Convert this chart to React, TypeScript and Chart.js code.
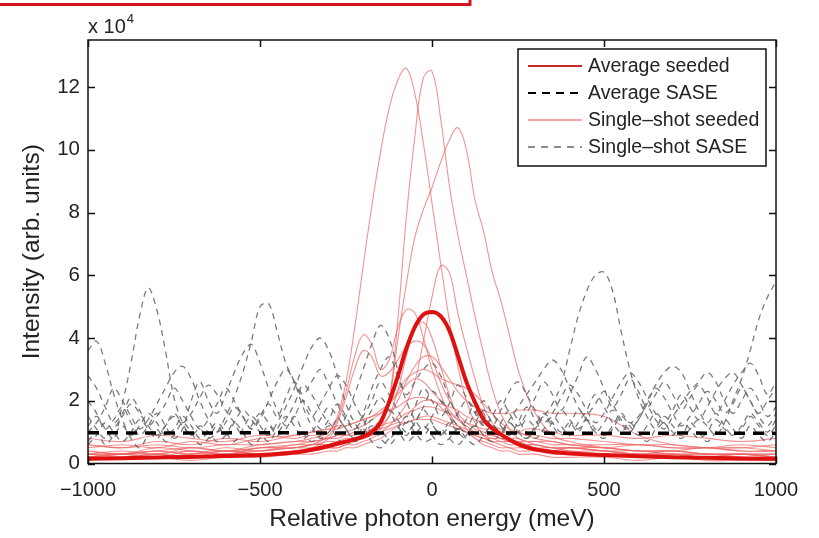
import React, { useEffect, useRef } from 'react';
import { Chart, registerables } from 'chart.js';

Chart.register(...registerables);

// ---------- axis ticks ----------
const xTickValues = [-1000, -500, 0, 500, 1000];
const yTickValues = [0, 2, 4, 6, 8, 10, 12];
const legendLabels = ['Average seeded', 'Average SASE', 'Single\u2013shot seeded', 'Single\u2013shot SASE'];

// ---------- averages (intensity in units of 10^4) ----------
const avgSeededEnergy = [-1000, -900, -800, -700, -600, -500, -400, -350, -300, -250, -200, -175, -150, -125, -100, -75, -50, -25, 0, 25, 50, 75, 100, 125, 150, 175, 200, 250, 300, 350, 400, 500, 600, 700, 800, 900, 1000];
const avgSeededIntensity = [0.15, 0.17, 0.19, 0.21, 0.24, 0.27, 0.35, 0.44, 0.56, 0.7, 0.86, 1.0, 1.3, 1.95, 2.75, 3.65, 4.35, 4.75, 4.83, 4.7, 4.25, 3.45, 2.6, 1.95, 1.4, 1.12, 0.93, 0.62, 0.45, 0.37, 0.32, 0.27, 0.23, 0.2, 0.18, 0.16, 0.15];

const avgSaseEnergy = [-1000, -750, -500, -250, 0, 250, 500, 750, 1000];
const avgSaseIntensity = [0.98, 0.97, 0.98, 0.97, 0.97, 0.97, 0.96, 0.97, 0.96];

// ---------- single-shot seeded spectra ----------
const seededEnergy = [-1000, -900, -800, -700, -600, -500, -400, -350, -300, -275, -250, -225, -200, -175, -150, -125, -100, -75, -50, -25, 0, 25, 50, 75, 100, 125, 150, 175, 200, 225, 250, 275, 300, 350, 400, 500, 600, 700, 800, 900, 1000];

const seededShotA = [0.3, 0.4, 0.3, 0.5, 0.4, 0.6, 0.7, 0.8, 1.0, 1.5, 2.6, 4.3, 6.3, 8.2, 9.9, 11.3, 12.2, 12.6, 11.8, 10.2, 8.3, 6.4, 4.6, 3.1, 2.0, 1.3, 0.9, 0.7, 0.6, 0.5, 0.5, 0.5, 0.4, 0.4, 0.5, 0.4, 0.3, 0.4, 0.3, 0.3, 0.2];
const seededShotB = [0.2, 0.3, 0.4, 0.3, 0.5, 0.4, 0.6, 0.6, 0.7, 0.7, 0.8, 0.8, 0.9, 1.0, 1.3, 2.0, 4.5, 7.8, 10.4, 12.3, 12.5, 11.0, 8.9, 7.3, 6.0, 4.7, 3.5, 2.4, 1.6, 1.1, 0.8, 0.7, 0.6, 0.5, 0.5, 0.4, 0.4, 0.3, 0.3, 0.3, 0.2];
const seededShotC = [0.3, 0.3, 0.2, 0.4, 0.3, 0.5, 0.5, 0.6, 0.6, 0.7, 0.7, 0.8, 0.9, 1.1, 1.4, 2.0, 3.9, 5.7, 7.2, 8.1, 8.8, 9.6, 10.3, 10.7, 10.0, 8.4, 7.4, 6.1, 5.2, 4.1, 3.0, 2.2, 1.6, 0.9, 0.7, 0.5, 0.4, 0.4, 0.3, 0.3, 0.3];
const seededShotD = [0.2, 0.3, 0.3, 0.2, 0.4, 0.3, 0.4, 0.4, 0.5, 0.5, 0.6, 0.6, 0.7, 0.8, 1.0, 1.2, 1.5, 1.9, 2.6, 3.9, 5.3, 6.3, 6.1, 4.8, 3.7, 2.7, 1.8, 1.3, 1.0, 0.8, 0.7, 0.6, 0.5, 0.5, 0.4, 0.4, 0.3, 0.3, 0.2, 0.3, 0.2];
const seededShotE = [0.3, 0.2, 0.3, 0.4, 0.3, 0.4, 0.5, 0.6, 0.9, 1.4, 2.3, 3.4, 4.1, 3.8, 3.0, 3.3, 4.3, 4.9, 4.8, 4.0, 3.0, 2.2, 1.6, 1.2, 1.0, 0.9, 0.8, 0.7, 0.7, 0.6, 0.6, 0.5, 0.5, 0.4, 0.4, 0.3, 0.3, 0.3, 0.2, 0.2, 0.2];
const seededShotF = [0.2, 0.3, 0.2, 0.3, 0.4, 0.3, 0.4, 0.5, 0.8, 1.3, 2.1, 3.0, 3.6, 3.4, 2.8, 2.9, 3.3, 3.7, 3.9, 3.8, 3.3, 2.6, 2.0, 1.6, 1.3, 1.1, 1.0, 0.9, 0.8, 0.7, 0.7, 0.6, 0.6, 0.5, 0.5, 0.4, 0.3, 0.3, 0.3, 0.2, 0.2];
const seededShotG = [0.3, 0.3, 0.4, 0.3, 0.4, 0.4, 0.5, 0.5, 0.6, 0.6, 0.7, 0.8, 0.9, 1.0, 1.2, 1.5, 2.0, 2.6, 3.1, 3.4, 3.4, 3.1, 2.7, 2.3, 2.0, 1.8, 1.7, 1.6, 1.6, 1.6, 1.7, 1.7, 1.7, 1.6, 1.6, 1.5, 0.9, 0.6, 0.5, 0.4, 0.4];
const seededShotH = [0.4, 0.3, 0.5, 0.4, 0.3, 0.5, 0.6, 0.7, 0.8, 0.9, 1.0, 1.1, 1.2, 1.4, 1.6, 1.9, 2.3, 2.7, 2.9, 3.0, 2.9, 2.7, 2.6, 2.5, 2.4, 2.2, 1.9, 1.6, 1.3, 1.1, 1.0, 0.9, 0.8, 0.7, 0.6, 0.5, 0.4, 0.4, 0.3, 0.3, 0.3];
const seededShotI = [0.5, 0.6, 0.5, 0.7, 0.6, 0.8, 0.9, 1.0, 1.1, 1.1, 1.2, 1.3, 1.4, 1.5, 1.6, 1.7, 1.8, 2.0, 2.1, 2.1, 2.0, 1.9, 1.8, 1.7, 1.5, 1.4, 1.3, 1.2, 1.1, 1.0, 1.0, 0.9, 0.9, 0.8, 0.8, 0.7, 0.6, 0.6, 0.5, 0.5, 0.4];
const seededShotJ = [0.6, 0.5, 0.7, 0.6, 0.8, 0.7, 0.9, 1.0, 1.1, 1.2, 1.2, 1.3, 1.4, 1.5, 1.7, 1.9, 2.2, 2.5, 2.7, 2.6, 2.3, 2.0, 1.7, 1.4, 1.2, 1.0, 0.9, 0.8, 0.8, 0.7, 0.7, 0.7, 0.7, 0.6, 0.6, 0.5, 0.6, 0.5, 0.5, 0.6, 0.5];
const seededShotK = [0.1, 0.2, 0.2, 0.1, 0.2, 0.2, 0.3, 0.3, 0.4, 0.4, 0.5, 0.5, 0.6, 0.7, 0.8, 1.0, 1.2, 1.5, 1.8, 2.0, 2.0, 1.8, 1.5, 1.2, 1.0, 0.8, 0.6, 0.5, 0.4, 0.4, 0.3, 0.3, 0.3, 0.2, 0.2, 0.2, 0.1, 0.2, 0.1, 0.1, 0.1];
const seededShotL = [0.8, 0.7, 0.9, 0.8, 0.7, 0.9, 0.8, 0.9, 0.8, 0.9, 0.9, 1.0, 1.0, 1.1, 1.2, 1.3, 1.4, 1.6, 1.7, 1.8, 1.8, 1.7, 1.6, 1.4, 1.3, 1.2, 1.1, 1.1, 1.0, 1.0, 1.0, 1.1, 1.1, 1.0, 0.9, 0.9, 0.8, 0.9, 0.8, 0.7, 0.8];
const seededShotM = [0.2, 0.2, 0.3, 0.2, 0.3, 0.3, 0.4, 0.4, 0.5, 0.5, 0.6, 0.7, 0.8, 0.9, 1.1, 1.5, 2.3, 3.4, 4.3, 4.5, 4.0, 3.1, 2.2, 1.5, 1.1, 0.8, 0.7, 0.6, 0.5, 0.5, 0.4, 0.4, 0.4, 0.3, 0.3, 0.3, 0.2, 0.2, 0.2, 0.2, 0.1];
const seededShotN = [0.4, 0.3, 0.4, 0.5, 0.4, 0.5, 0.5, 0.6, 0.6, 0.7, 0.7, 0.8, 0.8, 0.9, 1.0, 1.1, 1.2, 1.3, 1.4, 1.4, 1.4, 1.3, 1.2, 1.1, 1.0, 0.9, 0.8, 0.8, 0.7, 0.7, 0.6, 0.6, 0.6, 0.5, 0.5, 0.5, 0.4, 0.4, 0.5, 0.4, 0.4];
const seededShotO = [0.6, 0.5, 0.6, 0.5, 0.6, 0.6, 0.7, 0.7, 0.8, 0.8, 0.9, 0.9, 1.0, 1.0, 1.1, 1.2, 1.3, 1.3, 1.4, 1.5, 1.5, 1.4, 1.3, 1.2, 1.1, 1.0, 0.9, 0.9, 0.8, 0.8, 0.8, 0.7, 0.7, 0.7, 0.6, 0.6, 0.6, 0.5, 0.5, 0.5, 0.6];

// ---------- single-shot SASE spectra ----------
const saseEnergy = [
  -1000, -975, -950, -925, -900, -875, -850, -825, -800, -775, -750, -725, -700, -675, -650, -625,
  -600, -575, -550, -525, -500, -475, -450, -425, -400, -375, -350, -325, -300, -275, -250, -225,
  -200, -175, -150, -125, -100, -75, -50, -25, 0, 25, 50, 75, 100, 125, 150, 175,
  200, 225, 250, 275, 300, 325, 350, 375, 400, 425, 450, 475, 500, 525, 550, 575,
  600, 625, 650, 675, 700, 725, 750, 775, 800, 825, 850, 875, 900, 925, 950, 975, 1000,
];

const saseShot1 = [
  1.2, 1.5, 1.1, 0.8, 1.9, 3.2, 4.7, 5.6, 4.9, 3.6, 2.1, 1.3, 0.9, 1.2, 1.0, 0.7,
  0.9, 1.3, 1.0, 0.6, 0.8, 1.2, 0.9, 1.1, 1.5, 1.0, 0.7, 0.9, 1.2, 0.8, 0.6, 0.9,
  1.1, 0.7, 0.5, 0.8, 1.0, 0.7, 0.9, 1.2, 0.9, 0.6, 0.8, 1.1, 0.8, 0.6, 0.9, 1.2,
  0.9, 0.7, 1.0, 1.4, 1.2, 1.5, 1.9, 2.5, 3.6, 4.7, 5.5, 6.0, 6.1, 5.5, 4.2, 3.0,
  2.1, 1.5, 1.1, 1.3, 0.9, 1.3, 1.1, 0.8, 1.0, 1.4, 1.1, 0.9, 1.2, 1.6, 1.3, 1.0, 1.4,
];
const saseShot2 = [
  0.6, 0.9, 1.3, 1.0, 0.7, 1.0, 1.4, 1.1, 0.8, 1.2, 1.5, 1.2, 0.9, 1.1, 0.8, 1.0,
  1.5, 2.1, 2.9, 3.9, 5.0, 5.1, 4.2, 3.2, 2.6, 1.8, 1.2, 0.8, 1.0, 1.4, 1.1, 0.7,
  0.9, 1.2, 0.8, 0.6, 0.9, 1.3, 1.0, 0.7, 0.8, 1.1, 0.8, 0.6, 0.9, 1.2, 0.9, 0.7,
  1.0, 1.3, 1.0, 0.8, 1.1, 1.5, 1.2, 0.9, 1.2, 1.7, 1.4, 1.0, 0.8, 1.1, 1.5, 1.2,
  0.9, 1.2, 1.6, 1.3, 1.0, 0.8, 1.1, 1.4, 1.2, 0.9, 1.3, 2.0, 2.7, 3.6, 4.6, 5.3, 5.8,
];
const saseShot3 = [
  3.6, 3.9, 3.2, 2.2, 1.4, 0.9, 1.2, 1.6, 1.3, 0.9, 1.1, 1.5, 1.2, 0.8, 1.0, 1.3,
  1.0, 0.7, 1.1, 1.5, 1.2, 0.9, 1.3, 1.8, 2.4, 3.1, 3.7, 4.0, 3.6, 2.8, 1.9, 1.3,
  1.0, 1.4, 1.1, 0.8, 1.1, 1.5, 1.2, 0.9, 1.2, 0.9, 1.3, 1.0, 0.8, 1.2, 1.5, 1.1,
  0.9, 1.3, 1.0, 0.8, 1.2, 1.6, 1.3, 1.0, 1.3, 1.0, 1.4, 1.1, 0.9, 1.2, 1.6, 1.3,
  1.5, 2.0, 2.5, 2.9, 3.1, 2.9, 2.3, 1.7, 1.3, 1.6, 1.2, 0.9, 1.1, 1.5, 1.2, 0.9, 1.2,
];
const saseShot4 = [
  2.0, 1.6, 1.1, 1.4, 1.8, 1.3, 0.9, 1.2, 1.6, 1.2, 0.8, 1.1, 2.0, 2.6, 2.0, 1.6,
  2.2, 2.9, 3.5, 3.8, 3.2, 2.4, 1.7, 1.2, 1.5, 2.0, 1.6, 1.1, 1.4, 1.9, 1.5, 1.1,
  1.6, 2.4, 3.0, 3.4, 2.8, 2.0, 1.4, 1.1, 1.5, 2.0, 1.6, 1.2, 1.0, 1.3, 1.7, 1.3,
  1.0, 1.4, 1.8, 2.2, 2.6, 3.0, 3.3, 3.0, 2.4, 1.8, 1.4, 1.0, 1.3, 1.7, 1.3, 1.0,
  1.4, 1.8, 1.4, 1.1, 1.5, 1.9, 2.3, 2.6, 2.9, 2.6, 2.0, 1.6, 2.0, 2.4, 2.0, 1.5, 1.8,
];
const saseShot5 = [
  1.0, 1.3, 1.8, 2.4, 2.0, 1.5, 1.1, 1.4, 1.9, 2.4, 2.9, 3.1, 2.7, 2.0, 1.4, 1.0,
  1.3, 1.8, 1.5, 1.1, 1.4, 2.0, 2.6, 3.0, 2.6, 2.0, 1.5, 1.9, 2.4, 2.8, 2.5, 1.9,
  1.4, 1.0, 1.3, 1.7, 1.4, 1.0, 1.3, 1.8, 2.3, 2.0, 1.5, 1.1, 1.4, 1.9, 1.6, 1.2,
  1.7, 2.3, 2.6, 2.2, 1.7, 1.3, 1.6, 2.1, 2.5, 2.2, 1.7, 1.3, 1.6, 2.1, 2.6, 2.9,
  2.6, 2.1, 1.6, 1.3, 1.7, 2.2, 1.8, 1.4, 1.8, 2.3, 2.7, 2.9, 2.5, 2.0, 1.6, 2.0, 2.4,
];
const saseShot6 = [
  0.7, 1.0, 0.6, 0.9, 1.2, 0.8, 0.5, 0.9, 1.1, 0.7, 0.9, 1.3, 1.0, 0.6, 0.8, 1.2,
  0.9, 1.3, 1.7, 1.4, 1.0, 0.7, 1.1, 1.5, 1.2, 0.8, 1.0, 1.4, 1.8, 1.5, 1.1, 0.8,
  1.2, 1.7, 2.1, 1.7, 1.2, 0.9, 1.3, 1.7, 1.3, 0.9, 1.2, 1.6, 2.0, 1.7, 1.2, 0.9,
  1.3, 1.7, 1.4, 1.0, 0.8, 1.1, 1.5, 1.2, 0.9, 1.3, 1.7, 2.2, 1.8, 1.3, 1.0, 1.3,
  1.0, 0.7, 1.1, 1.5, 1.2, 0.9, 1.3, 1.0, 0.7, 1.0, 1.4, 1.1, 0.8, 1.2, 0.9, 0.7, 1.0,
];
const saseShot7 = [
  1.5, 1.1, 0.8, 1.1, 1.5, 1.9, 1.6, 1.2, 0.9, 1.2, 1.6, 1.3, 1.6, 2.1, 2.5, 2.2,
  1.7, 1.3, 0.9, 1.2, 1.6, 1.3, 1.0, 1.4, 1.9, 2.5, 2.2, 1.7, 1.3, 1.1, 1.5, 2.2,
  3.0, 3.8, 4.4, 4.0, 3.0, 2.2, 2.6, 3.0, 3.2, 2.8, 2.1, 1.5, 1.2, 1.6, 2.0, 1.6,
  1.2, 0.9, 1.3, 1.8, 1.4, 1.0, 1.3, 1.7, 1.4, 1.1, 1.5, 1.9, 2.3, 1.9, 1.4, 1.1,
  1.4, 1.9, 2.4, 2.1, 1.6, 1.2, 1.5, 1.9, 2.3, 2.0, 1.6, 1.9, 2.4, 2.0, 1.5, 1.2, 1.6,
];
const saseShot8 = [
  2.8, 2.4, 1.8, 1.3, 1.6, 2.1, 1.7, 1.2, 1.5, 1.9, 2.4, 2.0, 1.5, 1.1, 1.4, 1.9,
  2.4, 2.0, 1.5, 1.1, 1.5, 1.9, 1.5, 2.1, 2.6, 2.2, 2.6, 3.0, 2.5, 1.9, 1.4, 1.1,
  1.5, 2.0, 2.6, 2.2, 1.7, 1.3, 1.8, 2.4, 2.0, 1.5, 1.9, 2.5, 2.1, 1.6, 1.2, 1.5,
  2.0, 1.6, 1.2, 1.6, 2.1, 2.6, 2.2, 1.7, 2.2, 2.8, 3.4, 3.0, 2.4, 1.8, 2.2, 2.7,
  2.3, 1.8, 2.2, 2.6, 2.2, 1.7, 2.1, 2.5, 2.1, 1.6, 2.0, 2.5, 2.9, 3.2, 2.8, 2.2, 2.6,
];

// ---------- styles ----------
const FONT = '"Liberation Sans", Arial, Helvetica, sans-serif';
const TEXT_COLOR = '#222228';
const AVG_SEEDED_COLOR = 'rgb(222,16,16)';
const AVG_SASE_COLOR = '#000000';
const SHOT_SEEDED_COLOR = 'rgba(238,100,100,0.7)';
const SHOT_SASE_COLOR = 'rgba(100,100,100,0.85)';

const seededShots = [seededShotA, seededShotB, seededShotC, seededShotD, seededShotE, seededShotF, seededShotG, seededShotH, seededShotI, seededShotJ, seededShotK, seededShotL, seededShotM, seededShotN, seededShotO];
const saseShots = [saseShot1, saseShot2, saseShot3, saseShot4, saseShot5, saseShot6, saseShot7, saseShot8];

const toPoints = (xs: number[], ys: number[]) => xs.map((x, i) => ({ x, y: ys[i] }));

const fmtX = (v: number) => (v < 0 ? '\u2212' + Math.abs(v) : String(v));

const framePlugin = {
  id: 'matlabFrame',
  afterDraw(chart: any) {
    const { ctx, chartArea } = chart;
    const { left, right, top, bottom } = chartArea;
    const xs = chart.scales.x;
    const ys = chart.scales.y;
    ctx.save();

    // axes box
    ctx.strokeStyle = '#111';
    ctx.lineWidth = 1.5;
    ctx.setLineDash([]);
    ctx.strokeRect(left, top, right - left, bottom - top);

    // inward ticks
    const tl = 7;
    ctx.beginPath();
    xs.ticks.forEach((t: any) => {
      const px = Math.round(xs.getPixelForValue(t.value)) + 0.5;
      ctx.moveTo(px, bottom); ctx.lineTo(px, bottom - tl);
      ctx.moveTo(px, top); ctx.lineTo(px, top + tl);
    });
    ys.ticks.forEach((t: any) => {
      const py = Math.round(ys.getPixelForValue(t.value)) + 0.5;
      ctx.moveTo(left, py); ctx.lineTo(left + tl, py);
      ctx.moveTo(right, py); ctx.lineTo(right - tl, py);
    });
    ctx.stroke();

    // exponent label
    ctx.fillStyle = TEXT_COLOR;
    ctx.textBaseline = 'alphabetic';
    ctx.textAlign = 'left';
    ctx.font = `20px ${FONT}`;
    ctx.fillText('x 10', left, 33);
    const w = ctx.measureText('x 10').width;
    ctx.font = `13px ${FONT}`;
    ctx.fillText('4', left + w + 1, 23);

    // legend
    const lgX = right - 258;
    const lgY = top + 9;
    const lgW = 248;
    const lgH = 117;
    ctx.fillStyle = '#ffffff';
    ctx.fillRect(lgX, lgY, lgW, lgH);
    ctx.strokeStyle = '#111';
    ctx.lineWidth = 1.5;
    ctx.strokeRect(lgX, lgY, lgW, lgH);
    const samples = [
      { color: 'rgb(200,40,40)', width: 2, dash: [] as number[] },
      { color: '#000', width: 2.2, dash: [8, 6] },
      { color: 'rgba(238,120,120,0.9)', width: 1.4, dash: [] as number[] },
      { color: '#666', width: 1.4, dash: [7, 6] },
    ];
    legendLabels.forEach((label, i) => {
      const cy = lgY + 17 + i * 27;
      const s = samples[i];
      ctx.beginPath();
      ctx.strokeStyle = s.color;
      ctx.lineWidth = s.width;
      ctx.setLineDash(s.dash);
      ctx.moveTo(lgX + 10, cy);
      ctx.lineTo(lgX + 64, cy);
      ctx.stroke();
      ctx.setLineDash([]);
      ctx.fillStyle = TEXT_COLOR;
      ctx.font = `19.5px ${FONT}`;
      ctx.textBaseline = 'middle';
      ctx.fillText(label, lgX + 70, cy + 1);
    });

    // red annotation frame at the top
    ctx.strokeStyle = 'rgb(210,20,30)';
    ctx.lineWidth = 3;
    ctx.strokeRect(-10, -10, 480, 14.5);

    ctx.restore();
  },
};

export default function App() {
  const canvasRef = useRef<HTMLCanvasElement | null>(null);

  useEffect(() => {
    const canvas = canvasRef.current;
    if (!canvas) return;

    const datasets: any[] = [
      {
        label: 'Average seeded',
        data: toPoints(avgSeededEnergy, avgSeededIntensity),
        borderColor: AVG_SEEDED_COLOR,
        borderWidth: 4,
        cubicInterpolationMode: 'monotone',
        order: 0,
      },
      {
        label: 'Average SASE',
        data: toPoints(avgSaseEnergy, avgSaseIntensity),
        borderColor: AVG_SASE_COLOR,
        borderWidth: 3.5,
        borderDash: [11, 8],
        order: 1,
      },
      ...saseShots.map((s) => ({
        label: 'Single-shot SASE',
        data: toPoints(saseEnergy, s),
        borderColor: SHOT_SASE_COLOR,
        borderWidth: 1.3,
        borderDash: [6, 5],
        tension: 0.35,
        order: 2,
      })),
      ...seededShots.map((s) => ({
        label: 'Single-shot seeded',
        data: toPoints(seededEnergy, s),
        borderColor: SHOT_SEEDED_COLOR,
        borderWidth: 1.1,
        tension: 0.4,
        order: 3,
      })),
    ];

    const chart = new Chart(canvas, {
      type: 'line',
      data: { datasets },
      options: {
        responsive: false,
        animation: false,
        events: [],
        elements: { point: { radius: 0 } },
        layout: { padding: { top: 40, right: 43, left: 0, bottom: 0 } },
        plugins: { legend: { display: false }, tooltip: { enabled: false } },
        scales: {
          x: {
            type: 'linear',
            min: -1000,
            max: 1000,
            afterBuildTicks: (s: any) => { s.ticks = xTickValues.map((v) => ({ value: v })); },
            afterFit: (s: any) => { s.height = 74.5; },
            grid: { display: false, drawTicks: false },
            border: { display: false },
            ticks: {
              padding: 15,
              color: TEXT_COLOR,
              font: { size: 20, family: FONT },
              maxRotation: 0,
              autoSkip: false,
              callback: (v: any) => fmtX(Number(v)),
            },
            title: {
              display: true,
              text: 'Relative photon energy (meV)',
              color: TEXT_COLOR,
              font: { size: 24.5, family: FONT },
              padding: { top: 0, bottom: 4 },
            },
          },
          y: {
            type: 'linear',
            min: 0,
            max: 13.5,
            afterBuildTicks: (s: any) => { s.ticks = yTickValues.map((v) => ({ value: v })); },
            afterFit: (s: any) => { s.width = 88; },
            grid: { display: false, drawTicks: false },
            border: { display: false },
            ticks: {
              padding: 8,
              color: TEXT_COLOR,
              font: { size: 20.5, family: FONT },
              autoSkip: false,
              callback: (v: any) => String(v),
            },
            title: {
              display: true,
              text: 'Intensity (arb. units)',
              color: TEXT_COLOR,
              font: { size: 24.5, family: FONT },
              padding: { top: 18, bottom: 0 },
            },
          },
        },
      },
      plugins: [framePlugin],
    } as any);

    return () => chart.destroy();
  }, []);

  return (
    <div style={{ position: 'fixed', left: 0, top: 0, width: 819, height: 538, background: '#fff' }}>
      <canvas ref={canvasRef} width={819} height={538} style={{ width: 819, height: 538, display: 'block' }} />
    </div>
  );
}
